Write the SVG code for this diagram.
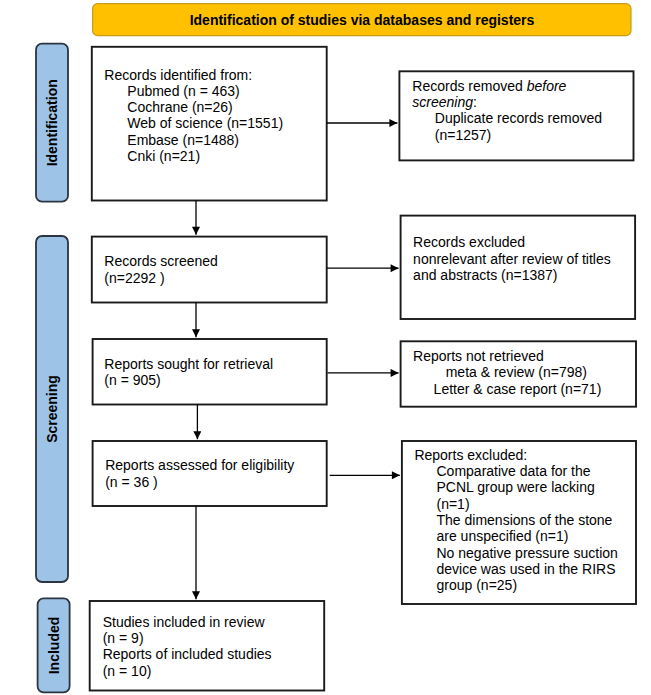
<svg xmlns="http://www.w3.org/2000/svg" width="651" height="695" viewBox="0 0 651 695">
<style>
  .box { fill: #ffffff; stroke: #1a1a1a; stroke-width: 1.9; }
  .lbl { fill: #9DC3E6; stroke: #2b3440; stroke-width: 1.8; }
  .banner { fill: #FFC000; stroke: #C99A1E; stroke-width: 1.2; }
  .t { font-family: "Liberation Sans", Arial, sans-serif; font-size: 14px; fill: #000000; }
  .b { font-family: "Liberation Sans", Arial, sans-serif; font-size: 14px; font-weight: bold; fill: #000000; }
  .conn { stroke: #000000; stroke-width: 1.3; fill: none; marker-end: url(#arrow); }
</style>
<defs>
  <marker id="arrow" viewBox="0 0 10 10" refX="10" refY="5" markerWidth="9" markerHeight="8" markerUnits="userSpaceOnUse" orient="auto">
    <path d="M0,0 L10,5 L0,10 z" fill="#000000"/>
  </marker>
</defs>
<rect width="651" height="695" fill="#ffffff"/>

<g id="banner">
  <rect class="banner" x="92.6" y="3.6" width="538.4" height="32" rx="5"/>
  <text class="b" x="362" y="25" text-anchor="middle">Identification of studies via databases and registers</text>
</g>

<g id="label-identification">
  <rect class="lbl" x="36" y="43.7" width="32" height="158" rx="6"/>
  <text class="b" x="57" y="122.8" text-anchor="middle" transform="rotate(-90 57 122.8)">Identification</text>
</g>
<g id="label-screening">
  <rect class="lbl" x="36" y="236" width="32" height="346" rx="6"/>
  <text class="b" x="57" y="409" text-anchor="middle" transform="rotate(-90 57 409)">Screening</text>
</g>
<g id="label-included">
  <rect class="lbl" x="37.6" y="598.3" width="32" height="94" rx="6"/>
  <text class="b" x="58.6" y="645.5" text-anchor="middle" transform="rotate(-90 58.6 645.5)">Included</text>
</g>

<g id="records-identified">
  <rect class="box" x="91.8" y="46.8" width="234.9" height="153.7"/>
  <text class="t" x="104.3" y="80">Records identified from:</text>
  <text class="t" x="127.3" y="96">Pubmed (n = 463)</text>
  <text class="t" x="127.3" y="112.4">Cochrane (n=26)</text>
  <text class="t" x="127.3" y="128.4">Web of science (n=1551)</text>
  <text class="t" x="127.3" y="144.9">Embase (n=1488)</text>
  <text class="t" x="127.3" y="160.9">Cnki (n=21)</text>
</g>

<g id="records-removed">
  <rect class="box" x="399.4" y="71.3" width="234.1" height="89.1"/>
  <text class="t" x="412.3" y="90.5">Records removed <tspan font-style="italic">before</tspan></text>
  <text class="t" x="412.3" y="107"><tspan font-style="italic">screening</tspan>:</text>
  <text class="t" x="434.8" y="123">Duplicate records removed</text>
  <text class="t" x="434.8" y="139.5">(n=1257)</text>
</g>

<g id="records-screened">
  <rect class="box" x="91.8" y="236.6" width="234.9" height="65.9"/>
  <text class="t" x="104.3" y="266">Records screened</text>
  <text class="t" x="104.3" y="282.5">(n=2292 )</text>
</g>

<g id="records-excluded">
  <rect class="box" x="400.6" y="215.6" width="234.5" height="103.4"/>
  <text class="t" x="413.1" y="247.4">Records excluded</text>
  <text class="t" x="413.1" y="263.8">nonrelevant after review of titles</text>
  <text class="t" x="413.1" y="279.9">and abstracts (n=1387)</text>
</g>

<g id="reports-sought">
  <rect class="box" x="92.6" y="339" width="234.1" height="65.5"/>
  <text class="t" x="104.3" y="368.5">Reports sought for retrieval</text>
  <text class="t" x="104.3" y="385">(n = 905)</text>
</g>

<g id="reports-not-retrieved">
  <rect class="box" x="400.6" y="341.3" width="235.4" height="65.4"/>
  <text class="t" x="413.1" y="361.4">Reports not retrieved</text>
  <text class="t" x="445.7" y="377.4">meta &amp; review (n=798)</text>
  <text class="t" x="433.6" y="394">Letter &amp; case report (n=71)</text>
</g>

<g id="reports-assessed">
  <rect class="box" x="92.6" y="441" width="234.1" height="65"/>
  <text class="t" x="105.2" y="470">Reports assessed for eligibility</text>
  <text class="t" x="105.2" y="486.6">(n = 36 )</text>
</g>

<g id="reports-excluded">
  <rect class="box" x="401.9" y="441" width="234.1" height="163"/>
  <text class="t" x="414.4" y="459.9">Reports excluded:</text>
  <text class="t" x="436.5" y="476.3">Comparative data for the</text>
  <text class="t" x="436.5" y="492.4">PCNL group were lacking</text>
  <text class="t" x="436.5" y="508.9">(n=1)</text>
  <text class="t" x="436.5" y="524.9">The dimensions of the stone</text>
  <text class="t" x="436.5" y="541.4">are unspecified (n=1)</text>
  <text class="t" x="436.5" y="557.9">No negative pressure suction</text>
  <text class="t" x="436.5" y="573.9">device was used in the RIRS</text>
  <text class="t" x="436.5" y="590.4">group (n=25)</text>
</g>

<g id="studies-included">
  <rect class="box" x="89.7" y="601" width="234.5" height="89.5"/>
  <text class="t" x="102.7" y="626.5">Studies included in review</text>
  <text class="t" x="102.7" y="643">(n = 9)</text>
  <text class="t" x="102.7" y="659">Reports of included studies</text>
  <text class="t" x="102.7" y="675.5">(n = 10)</text>
</g>

<g id="connectors">
  <line class="conn" x1="326.7" y1="123" x2="397.4" y2="123"/>
  <line class="conn" x1="196" y1="200.5" x2="196" y2="234.8"/>
  <line class="conn" x1="326.7" y1="268.2" x2="398.6" y2="268.2"/>
  <line class="conn" x1="196" y1="302.5" x2="196" y2="337.2"/>
  <line class="conn" x1="327.5" y1="372.9" x2="398.6" y2="372.9"/>
  <line class="conn" x1="197.4" y1="404.5" x2="197.4" y2="439.2"/>
  <line class="conn" x1="329.7" y1="475.3" x2="399.9" y2="475.3"/>
  <line class="conn" x1="196" y1="506" x2="196" y2="599.2"/>
</g>
</svg>
